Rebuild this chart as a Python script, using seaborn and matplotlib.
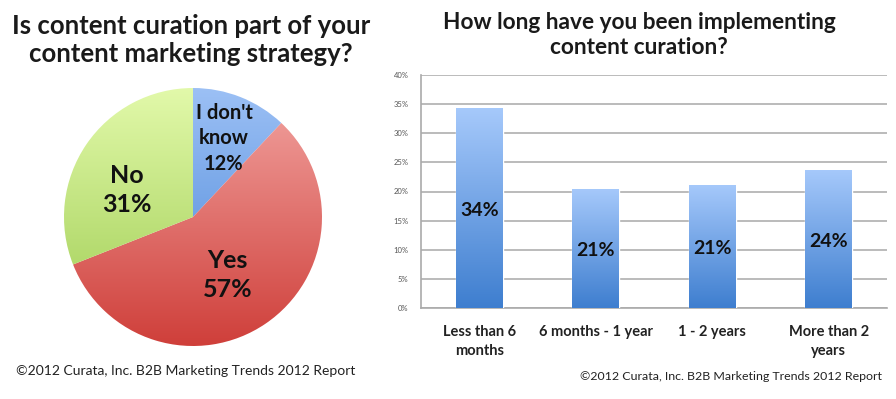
import numpy as np
import pandas as pd
import matplotlib
matplotlib.use("Agg")
import matplotlib.pyplot as plt
from matplotlib.colors import LinearSegmentedColormap
import seaborn as sbn

# datos del gráfico de pastel
etiquetas_pastel = ["I don't\nknow", "Yes", "No"]
valores_pastel = [12, 57, 31]
colores_pastel = [("#9cc0f5", "#4483d6"),
                  ("#f2a4a1", "#cf3f3a"),
                  ("#e2f9aa", "#9ccb4f")]

# datos del gráfico de barras
categorias = ["Less than 6\nmonths", "6 months - 1 year", "1 - 2 years",
              "More than 2\nyears"]
valores_barras = [34.3, 20.5, 21.2, 23.7]
textos_barras = ["34%", "21%", "21%", "24%"]
ticks_y = [0, 5, 10, 15, 20, 25, 30, 35, 40]

titulo_pastel = "Is content curation part of your\ncontent marketing strategy?"
titulo_barras = "How long have you been implementing\ncontent curation?"
nota = "©2012 Curata, Inc. B2B Marketing Trends 2012 Report"

sbn.set_style("white")
plt.rcParams["font.family"] = ["Lato", "DejaVu Sans"]

fig = plt.figure(figsize = (8.96, 3.99), dpi = 100)
W, H = 896, 399


def rellenar_degradado(ax, parche, arriba, abajo, extension):
    """Pinta un degradado vertical recortado a la forma del parche."""
    cmap = LinearSegmentedColormap.from_list("g", [abajo, arriba])
    grad = np.linspace(0, 1, 256).reshape(-1, 1)
    img = ax.imshow(grad, cmap = cmap, origin = "lower", aspect = "auto",
                    extent = extension, zorder = parche.get_zorder())
    img.set_clip_path(parche)
    parche.set_facecolor("none")


# pastel
cx, cy, r = 193, 217, 129
ax_p = fig.add_axes([(cx - r) / W, (H - cy - r) / H, 2 * r / W, 2 * r / H])
cunas, _ = ax_p.pie(valores_pastel, startangle = 90, counterclock = False,
                    radius = 1, wedgeprops = {"linewidth": 0})
for cuna, (arriba, abajo) in zip(cunas, colores_pastel):
    rellenar_degradado(ax_p, cuna, arriba, abajo, (-1, 1, -1, 1))
ax_p.set_xlim(-1, 1)
ax_p.set_ylim(-1, 1)
ax_p.set_aspect("equal")
ax_p.axis("off")

pos_textos = [(0.24, 0.61), (0.27, -0.45), (-0.51, 0.21)]
for (x, y), etiqueta, valor in zip(pos_textos, etiquetas_pastel, valores_pastel):
    tam = 14.5 if valor == 12 else 18
    ax_p.text(x, y, f"{etiqueta}\n{valor}%", ha = "center", va = "center",
              multialignment = "center", fontsize = tam, fontweight = "bold",
              color = "#111111", linespacing = 1.35)

fig.text(191 / W, 1 - 40 / H, titulo_pastel, ha = "center", va = "center",
         fontsize = 18.5, fontweight = "bold", color = "#1a1a1a",
         linespacing = 1.25)
fig.text(186 / W, 1 - 371 / H, nota, ha = "center", va = "center",
         fontsize = 10, color = "#222222")

# barras
ax_b = fig.add_axes([421 / W, (H - 308) / H, 466 / W, 233 / H])
df = pd.DataFrame({"categoria": categorias, "valor": valores_barras})
sbn.barplot(data = df, x = "categoria", y = "valor", ax = ax_b,
            color = "#6a9fe6", width = 0.4, saturation = 1, zorder = 3)
for barra, texto in zip(ax_b.patches, textos_barras):
    x0, y0 = barra.get_x(), barra.get_y()
    rellenar_degradado(ax_b, barra, "#a6c9fb", "#3e7ecf",
                       (x0, x0 + barra.get_width(), y0, y0 + barra.get_height()))
    ax_b.text(x0 + barra.get_width() / 2, barra.get_height() / 2 - 0.4,
              texto, ha = "center", va = "center",
              fontsize = 14, fontweight = "bold", color = "#111111", zorder = 5)

ax_b.set_xlim(-0.5, 3.5)
ax_b.set_ylim(0, 40)
ax_b.set_yticks(ticks_y)
ax_b.set_yticklabels([f"{t}%" for t in ticks_y], fontsize = 5.5,
                     color = "#555555")
ax_b.yaxis.grid(True, color = "#b5b5b5", linewidth = 1.3, zorder = 0)
ax_b.set_axisbelow(True)
ax_b.set_xticks(range(len(categorias)))
ax_b.set_xticklabels(categorias, fontsize = 10.5, fontweight = "bold",
                     color = "#222222", linespacing = 1.45)
ax_b.set_xticks([0.5, 1.5, 2.5], minor = True)
ax_b.tick_params(axis = "x", which = "major", length = 0, pad = 12)
ax_b.tick_params(axis = "x", which = "minor", length = 4, color = "#999999",
                 width = 1.2)
ax_b.tick_params(axis = "y", length = 3, color = "#999999", pad = 6)
ax_b.set_xlabel("")
ax_b.set_ylabel("")
for lado in ["top", "right"]:
    ax_b.spines[lado].set_visible(False)
for lado in ["left", "bottom"]:
    ax_b.spines[lado].set_color("#aaaaaa")
    ax_b.spines[lado].set_linewidth(1.2)

fig.text(639 / W, 1 - 35 / H, titulo_barras, ha = "center", va = "center",
         fontsize = 16.3, fontweight = "bold", color = "#1a1a1a",
         linespacing = 1.25)
fig.text(731 / W, 1 - 377 / H, nota, ha = "center", va = "center",
         fontsize = 8.9, color = "#222222")

fig.savefig("out.png", dpi = 100)
